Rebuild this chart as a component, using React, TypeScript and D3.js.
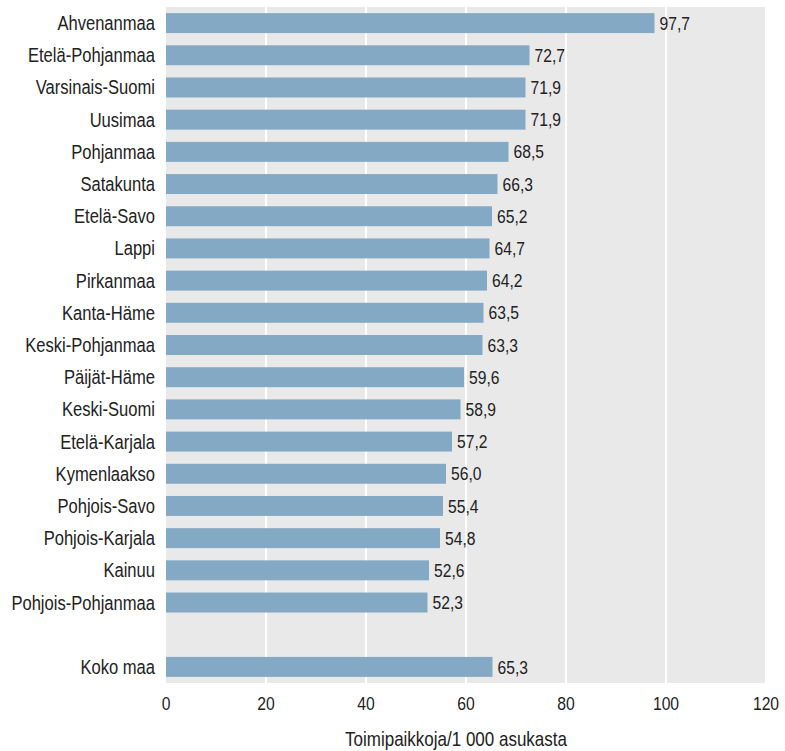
import React from "react";
import * as d3 from "d3";

const categories = [
  "Ahvenanmaa", "Etelä-Pohjanmaa", "Varsinais-Suomi", "Uusimaa", "Pohjanmaa",
  "Satakunta", "Etelä-Savo", "Lappi", "Pirkanmaa", "Kanta-Häme",
  "Keski-Pohjanmaa", "Päijät-Häme", "Keski-Suomi", "Etelä-Karjala", "Kymenlaakso",
  "Pohjois-Savo", "Pohjois-Karjala", "Kainuu", "Pohjois-Pohjanmaa", "", "Koko maa",
];
const values: (number | null)[] = [
  97.7, 72.7, 71.9, 71.9, 68.5,
  66.3, 65.2, 64.7, 64.2, 63.5,
  63.3, 59.6, 58.9, 57.2, 56.0,
  55.4, 54.8, 52.6, 52.3, null, 65.3,
];
const xTicks = [0, 20, 40, 60, 80, 100, 120];
const xTitle = "Toimipaikkoja/1 000 asukasta";

const W = 785, H = 751;
const left = 166, right = 766, top = 7, bottom = 683;
const FONT = "'Liberation Sans', Arial, sans-serif";
const SX = 0.85;

function T(props: { x: number; y: number; anchor?: string; size: number; children: React.ReactNode }) {
  return (
    <text
      transform={`translate(${props.x},${props.y}) scale(${SX},1)`}
      textAnchor={props.anchor || "start"}
      fontSize={props.size}
      fill="#222"
    >
      {props.children}
    </text>
  );
}

export default function App() {
  const x = d3.scaleLinear().domain([0, 120]).range([left, right]);
  const y = d3.scaleBand<number>().domain(d3.range(categories.length)).range([top, bottom]).paddingInner(0.38).paddingOuter(0.19);
  const fmt = (v: number) => v.toFixed(1).replace(".", ",");
  return (
    <svg width={W} height={H} style={{ position: "absolute", left: 0, top: 0 }} fontFamily={FONT}>
      <rect x={left} y={top} width={right - left - 1} height={bottom - top} fill="#e9e9e9" />
      {xTicks.slice(1, -1).map((t) => (
        <line key={t} x1={x(t)} x2={x(t)} y1={top} y2={bottom} stroke="#fff" strokeWidth={2} />
      ))}
      {categories.map((c, i) => {
        const v = values[i];
        const yy = y(i)!;
        const cy = yy + y.bandwidth() / 2;
        return (
          <g key={i}>
            {c && <T x={155} y={cy + 7} anchor="end" size={19.5}>{c}</T>}
            {v != null && (
              <>
                <rect x={x(0)} y={yy} width={x(v) - x(0)} height={y.bandwidth()} fill="#84a9c4" />
                <T x={x(v) + 5} y={cy + 6.6} size={18.4}>{fmt(v)}</T>
              </>
            )}
          </g>
        );
      })}
      {xTicks.map((t) => (
        <T key={t} x={x(t)} y={710} anchor="middle" size={18.5}>{t}</T>
      ))}
      <T x={(left + right) / 2 - 10} y={746} anchor="middle" size={20}>{xTitle}</T>
    </svg>
  );
}
